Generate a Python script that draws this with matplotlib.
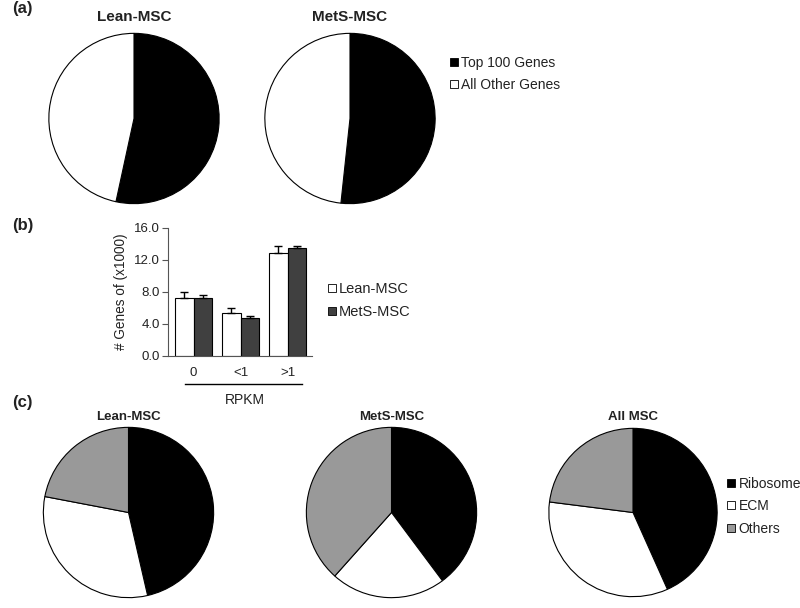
import matplotlib
matplotlib.use('Agg')
import matplotlib.pyplot as plt
from matplotlib.lines import Line2D

plt.rcParams['font.family'] = ['Liberation Sans', 'DejaVu Sans']

W, H = 800, 608

# (a) top 100 genes share
top_labels = ['Top 100 Genes', 'All Other Genes']
top_lean = [53.4, 46.6]
top_mets = [51.7, 48.3]

# (b) gene counts by RPKM
rpkm_cats = ['0', '<1', '>1']
lean_counts = [7.25, 5.3, 12.8]
lean_err = [0.65, 0.6, 0.9]
mets_counts = [7.15, 4.75, 13.4]
mets_err = [0.45, 0.2, 0.25]

# (c) categories
cat_labels = ['Ribosome', 'ECM', 'Others']
cat_lean = [46.4, 31.6, 22.0]
cat_mets = [39.8, 21.8, 38.4]
cat_all = [43.3, 33.7, 23.0]

top_colors = ['black', 'white']
cat_colors = ['black', 'white', '#999999']

fig = plt.figure(figsize=(W / 100, H / 100), dpi=100)


def px_axes(l, t, w, h):
    return fig.add_axes([l / W, 1 - (t + h) / H, w / W, h / H])


def pie_at(cx, cy, r, vals, colors, title, ty, tsize):
    ax = px_axes(cx - r, cy - r, 2 * r, 2 * r)
    ax.pie(vals, colors=colors, startangle=90, counterclock=False,
           wedgeprops=dict(edgecolor='black', linewidth=0.8))
    ax.set_xlim(-1.01, 1.01)
    ax.set_ylim(-1.01, 1.01)
    ax.set_aspect('auto')
    fig.text(cx / W, 1 - ty / H, title, ha='center', va='center',
             fontsize=tsize, fontweight='bold', color='#222222')
    return ax


def square_legend(labels, colors, x, y, size=10):
    handles = [Line2D([], [], marker='s', linestyle='none', markersize=6,
                      markerfacecolor=c, markeredgecolor='black', markeredgewidth=0.6)
               for c in colors]
    fig.legend(handles, labels, loc='upper left', bbox_to_anchor=(x / W, 1 - y / H),
               frameon=False, fontsize=size, handlelength=0.5,
               handletextpad=0.25, labelspacing=0.6, borderaxespad=0, borderpad=0,
               labelcolor='#222222')


# panel labels
for lab, y in [('(a)', 9), ('(b)', 225), ('(c)', 402)]:
    fig.text(12 / W, 1 - y / H, lab, ha='left', va='center', fontsize=12,
             fontweight='bold', color='#222222')

# (a)
pie_at(134, 118.5, 86, top_lean, top_colors, 'Lean-MSC', 17, 11)
pie_at(350, 118.5, 86, top_mets, top_colors, 'MetS-MSC', 17, 11)
square_legend(top_labels, top_colors, 451, 56)

# (b)
ax = px_axes(168, 227.7, 144, 128)
x = list(range(len(rpkm_cats)))
bw = 0.4
ax.bar([i - bw / 2 for i in x], lean_counts, bw, color='white', edgecolor='black',
       linewidth=0.8, yerr=[[0] * 3, lean_err], capsize=3,
       error_kw=dict(elinewidth=1, capthick=1))
ax.bar([i + bw / 2 for i in x], mets_counts, bw, color='#404040', edgecolor='black',
       linewidth=0.8, yerr=[[0] * 3, mets_err], capsize=3,
       error_kw=dict(elinewidth=1, capthick=1))
ax.set_xlim(-0.545, 2.52)
ax.set_ylim(0, 16)
ax.set_yticks([0, 4, 8, 12, 16])
ax.set_yticklabels(['%.1f' % v for v in [0, 4, 8, 12, 16]], fontsize=9.5, color='#222222')
ax.set_xticks(x)
ax.set_xticklabels(rpkm_cats, fontsize=9.5, color='#222222')
ax.tick_params(axis='x', length=0, pad=8)
ax.tick_params(axis='y', length=4, width=0.8, color='#555555', pad=2)
for s in ['top', 'right']:
    ax.spines[s].set_visible(False)
for s in ['left', 'bottom']:
    ax.spines[s].set_color('#555555')
    ax.spines[s].set_linewidth(0.8)
ax.set_ylabel('# Genes of (x1000)', fontsize=9.8, color='#222222', labelpad=4)
fig.add_artist(Line2D([185 / W, 302 / W], [1 - 384 / H, 1 - 384 / H],
                      color='black', linewidth=1))
fig.text(245 / W, 1 - 400 / H, 'RPKM', ha='center', va='center', fontsize=10,
         color='#222222')
square_legend(['Lean-MSC', 'MetS-MSC'], ['white', '#404040'], 328, 282, 10.5)

# (c)
pie_at(128.5, 512.5, 86, cat_lean, cat_colors, 'Lean-MSC', 416.5, 9.5)
pie_at(391.5, 512.5, 86, cat_mets, cat_colors, 'MetS-MSC', 416.5, 9.5)
pie_at(633, 512.5, 85, cat_all, cat_colors, 'All MSC', 416.5, 9.5)
square_legend(cat_labels, cat_colors, 728, 477)

fig.savefig('out.png', dpi=100)
